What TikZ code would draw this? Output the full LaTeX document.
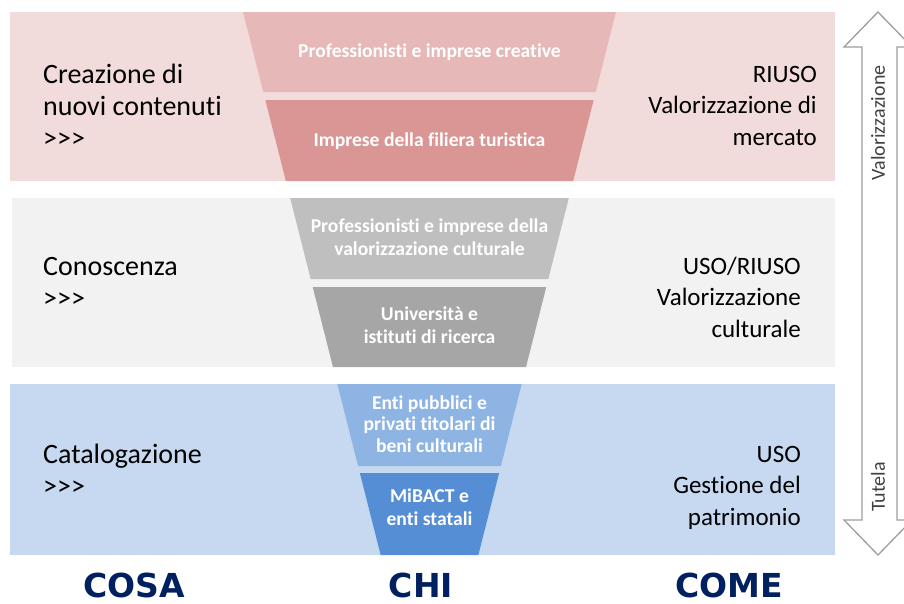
\documentclass[tikz,border=0pt]{standalone}
\usepackage{fontspec}
\setmainfont{Carlito}[Ligatures={NoCommon}]
\newfontfamily\headfont{DejaVu Sans}
\usepackage{tikz}
\usetikzlibrary{positioning}
\definecolor{bandPink}{HTML}{F2DCDB}
\definecolor{pinkA}{HTML}{E6B9B8}
\definecolor{pinkB}{HTML}{D99694}
\definecolor{bandGray}{HTML}{F2F2F2}
\definecolor{grayA}{HTML}{BFBFBF}
\definecolor{grayB}{HTML}{A6A6A6}
\definecolor{bandBlue}{HTML}{C6D9F1}
\definecolor{blueA}{HTML}{8EB4E3}
\definecolor{blueB}{HTML}{558ED5}
\definecolor{headNavy}{HTML}{002060}
\colorlet{axisLine}{black!38}
\colorlet{axisText}{black!75}
\newcommand{\more}{>{}>{}>}
\tikzset{
  piece text/.style={text=white, font=\fontsize{19.6}{23}\selectfont\bfseries, align=center, inner sep=0pt},
  what text/.style={font=\fontsize{28}{32}\selectfont, align=left, anchor=base west, inner sep=0pt},
  how text/.style={font=\fontsize{25}{31.5}\selectfont, align=right, anchor=base east, inner sep=0pt},
  axis text/.style={font=\fontsize{20}{24}\selectfont, text=axisText, rotate=90, inner sep=0pt},
  column head/.style={font=\headfont\bfseries\fontsize{33}{36}\selectfont, text=headNavy, anchor=base, inner sep=0pt, text depth=0pt}
}

\begin{document}
\begin{tikzpicture}[x=1pt, y=-1pt]
\useasboundingbox (0,0) rectangle (904,603);
% bands
\fill[bandPink] (10,12) rectangle (835,181);
\fill[bandGray] (12,198) rectangle (835,367);
\fill[bandBlue] (10,384) rectangle (835,555);
% funnel
\foreach \ya/\yb/\col in {12/92/pinkA, 100/181/pinkB, 198/279/grayA, 287/367/grayB, 384/466/blueA, 473/555/blueB}{
  \pgfmathsetmacro\la{243+0.2535*(\ya-12)}
  \pgfmathsetmacro\ra{616-0.2535*(\ya-12)}
  \pgfmathsetmacro\lb{243+0.2535*(\yb-12)}
  \pgfmathsetmacro\rb{616-0.2535*(\yb-12)}
  \fill[\col] (\la,\ya) -- (\ra,\ya) -- (\rb,\yb) -- (\lb,\yb) -- cycle;
}
\node[piece text] (pieceA) at (429.5,52) {Professionisti e imprese creative};
\node[piece text] (pieceB) at (429.5,141) {Imprese della filiera turistica};
\node[piece text] (pieceC) at (429.5,237) {Professionisti e imprese della\\valorizzazione culturale};
\node[piece text] (pieceD) at (429.5,325) {Università e\\istituti di ricerca};
\node[piece text, font=\fontsize{19.6}{21.5}\selectfont\bfseries] (pieceE) at (429.5,424) {Enti pubblici e\\privati titolari di\\beni culturali};
\node[piece text] (pieceF) at (429.5,507) {MiBACT e\\enti statali};
% cosa
\node[what text] (whatA) at (43,147) {Creazione di\\nuovi contenuti\\\more};
\node[what text] (whatB) at (43,307) {Conoscenza\\\more};
\node[what text] (whatC) at (43,495) {Catalogazione\\\more};
% come
\node[how text] (howA) at (817,145) {RIUSO\\Valorizzazione di\\mercato};
\node[how text] (howB) at (801,337) {USO/RIUSO\\Valorizzazione\\culturale};
\node[how text] (howC) at (801,525) {USO\\Gestione del\\patrimonio};
% double arrow
\draw[axisLine, line width=1.3pt, fill=white, line join=miter]
  (878,12) -- (912,47) -- (897,47) -- (897,520) -- (912,520) -- (878,555)
  -- (844,520) -- (862,520) -- (862,47) -- (844,47) -- cycle;
\node[axis text] (axisTop) at (878,123) {Valorizzazione};
\node[axis text] (axisBottom) at (878,487) {Tutela};
% column heads
\node[column head] (headCosa) at (134,597) {COSA};
\node[column head] (headChi) at (421,597) {CHI};
\node[column head] (headCome) at (729,597) {COME};
\end{tikzpicture}
\end{document}
